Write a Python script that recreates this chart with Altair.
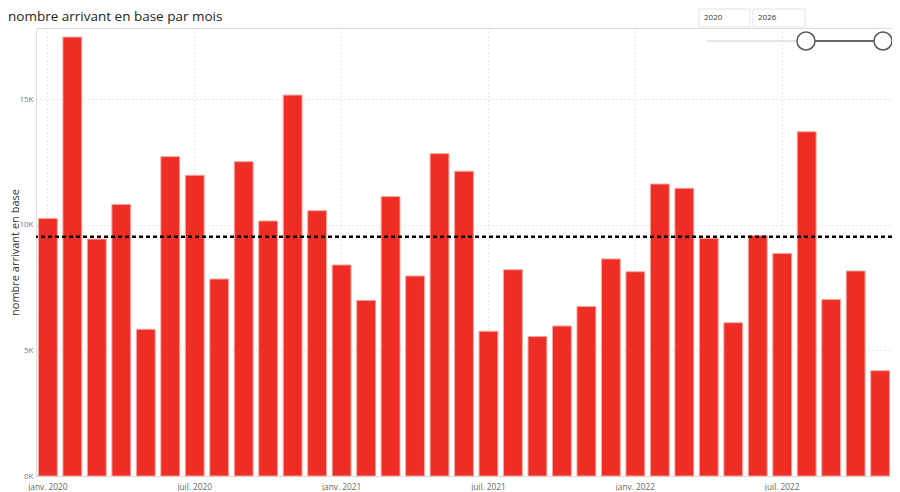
import altair as alt
import pandas as pd

# ---- data ----
mois = [
    "2020-01", "2020-02", "2020-03", "2020-04", "2020-05", "2020-06",
    "2020-07", "2020-08", "2020-09", "2020-10", "2020-11", "2020-12",
    "2021-01", "2021-02", "2021-03", "2021-04", "2021-05", "2021-06",
    "2021-07", "2021-08", "2021-09", "2021-10", "2021-11", "2021-12",
    "2022-01", "2022-02", "2022-03", "2022-04", "2022-05", "2022-06",
    "2022-07", "2022-08", "2022-09", "2022-10", "2022-11",
]
valeurs = [
    10250, 17470, 9430, 10810, 5840, 12710,
    11970, 7840, 12510, 10150, 15160, 10560,
    8400, 6990, 11120, 7960, 12830, 12130,
    5760, 8210, 5550, 5970, 6750, 8640,
    8130, 11620, 11450, 9460, 6100, 9570,
    8860, 13700, 7020, 8160, 4190,
]
tick_mois = ["2020-01", "2020-07", "2021-01", "2021-07", "2022-01", "2022-07"]
tick_labels = ["janv. 2020", "juil. 2020", "janv. 2021", "juil. 2021", "janv. 2022", "juil. 2022"]
y_ticks = [0, 5000, 10000, 15000]
titre = "nombre arrivant en base par mois"
titre_y = "nombre arrivant en base"
slicer_debut = "2020"
slicer_fin = "2026"

df = pd.DataFrame({"mois": mois, "valeur": valeurs})
one = pd.DataFrame({"a": [0]})

label_map = "{" + ",".join(f"'{m}':'{l}'" for m, l in zip(tick_mois, tick_labels)) + "}"

FONT = "Segoe UI, Open Sans, sans-serif"
PL = 28
W, H = 856, 448

x = alt.X(
    "mois:O",
    sort=mois,
    title=None,
    scale=alt.Scale(paddingInner=0.23, paddingOuter=0.1),
    axis=alt.Axis(
        values=tick_mois,
        labelExpr=f"{label_map}[datum.value]",
        labelAngle=0,
        labelFontSize=8.3,
        labelColor="#666666",
        labelFont=FONT,
        labelPadding=6,
        ticks=False,
        domain=False,
        grid=True,
        gridDash=[1, 3],
        gridColor="#cfcfcf",
        gridWidth=1,
        bandPosition=0.5,
    ),
)

y = alt.Y(
    "valeur:Q",
    title=titre_y,
    scale=alt.Scale(domain=[0, 17830], nice=False),
    axis=alt.Axis(
        values=y_ticks,
        labelExpr="(datum.value/1000) + 'K'",
        labelFontSize=8,
        labelColor="#777777",
        labelFont=FONT,
        labelPadding=3,
        ticks=False,
        domain=False,
        grid=True,
        gridDash=[1, 3],
        gridColor="#cfcfcf",
        titleFont=FONT,
        titleFontSize=11,
        titleFontWeight="normal",
        titleColor="#333333",
        titleX=-PL + 1,
        titleBaseline="top",
    ),
)

bars = alt.Chart(df).mark_bar(
    color="#EE2E24", stroke="#F7A6A0", strokeWidth=1
).encode(x=x, y=y)

moyenne = alt.Chart(df).mark_rule(
    color="#000000", strokeDash=[4, 3], strokeWidth=2.5
).encode(y=alt.Y("mean(valeur):Q"))

title_txt = alt.Chart(one).mark_text(
    text=titre, align="left", baseline="middle", font=FONT, fontSize=13.5, color="#252423"
).encode(x=alt.value(-PL), y=alt.value(-11))

# slicer decoration (top right), positions in pixels relative to the plot
o = 26 - PL
box1 = alt.Chart(one).mark_rect(fill="white", stroke="#e3e3e3", strokeWidth=1).encode(
    x=alt.value(665 + o), x2=alt.value(716 + o), y=alt.value(-19), y2=alt.value(-1))
box2 = alt.Chart(one).mark_rect(fill="white", stroke="#e3e3e3", strokeWidth=1).encode(
    x=alt.value(719 + o), x2=alt.value(771 + o), y=alt.value(-19), y2=alt.value(-1))
t1 = alt.Chart(one).mark_text(text=slicer_debut, align="left", baseline="middle",
                              font=FONT, fontSize=8, color="#333333").encode(
    x=alt.value(670 + o), y=alt.value(-10))
t2 = alt.Chart(one).mark_text(text=slicer_fin, align="left", baseline="middle",
                              font=FONT, fontSize=8, color="#333333").encode(
    x=alt.value(724 + o), y=alt.value(-10))
line_light = alt.Chart(one).mark_rule(color="#e6e6e6", strokeWidth=2).encode(
    x=alt.value(673 + o), x2=alt.value(772 + o), y=alt.value(13))
line_dark = alt.Chart(one).mark_rule(color="#666666", strokeWidth=2).encode(
    x=alt.value(772 + o), x2=alt.value(849 + o), y=alt.value(13))
c1 = alt.Chart(one).mark_point(shape="circle", size=324, filled=True, fill="white",
                               stroke="#555555", strokeWidth=1.5, opacity=1).encode(
    x=alt.value(772 + o), y=alt.value(13))
c2 = alt.Chart(one).mark_point(shape="circle", size=324, filled=True, fill="white",
                               stroke="#555555", strokeWidth=1.5, opacity=1).encode(
    x=alt.value(849 + o), y=alt.value(13))

chart = alt.layer(
    bars, moyenne, title_txt, box1, box2, t1, t2, line_light, line_dark, c1, c2
).properties(
    width=W,
    height=H,
    autosize=alt.AutoSizeParams(type="none"),
    padding={"left": PL, "top": 20, "right": 0, "bottom": 15},
).configure_view(stroke="transparent", strokeWidth=0).configure(background="white")

chart.save("out.html", embed_options={"renderer": "svg", "actions": False})
